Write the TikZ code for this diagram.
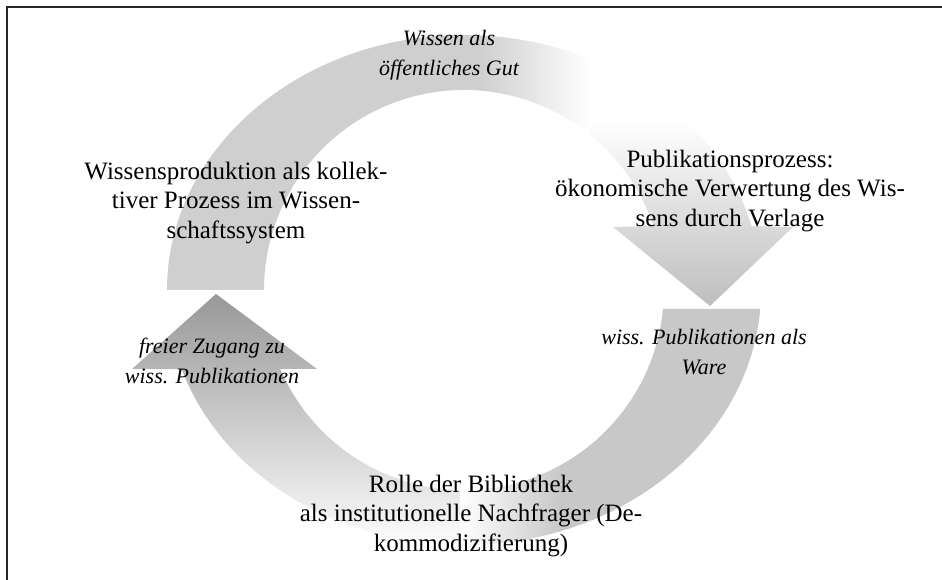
\documentclass[tikz,border=0pt]{standalone}
\usepackage{fontspec}
\setmainfont{LiberationSerif}[Extension=.ttf, UprightFont=*-Regular, ItalicFont=*-Italic, BoldFont=*-Bold]
\usepackage{tikz}

\definecolor{tailgray}{HTML}{CFCFCF}
\definecolor{tailgraytwo}{HTML}{C8C8C8}
\definecolor{headgray}{HTML}{BDBDBD}
\definecolor{headdark}{HTML}{969696}

\begin{document}
\begin{tikzpicture}[
		x=1pt,
		y=1pt,
		maintext/.style={font=\fontsize{25}{29.5}\selectfont, align=center, inner sep=0pt},
		slanttext/.style={font=\fontsize{22}{29.5}\selectfont\itshape, align=center, inner sep=0pt}
		]
		
		\def\OuterA{297}
		\def\OuterB{255}
		\def\InnerR{200}
		
		\useasboundingbox (0,0) rectangle (942,580);
		
		% Frame, only the left and the top edge are in view.
		\draw[line width=1.6pt, black!85] (7,0) -- (7,573) -- (942,573);
		
		% Upper arrow: from the left side over the top down to the right.
		\begin{scope}
			\clip (167,290) arc[start angle=180, end angle=14.53, x radius=\OuterA, y radius=\OuterB]
			-- (793,353) -- (710,274) -- (613,353)
			-- (653.5,354) arc[start angle=18.66, end angle=180, radius=\InnerR] -- cycle;
			\fill[tailgray] (150,280) rectangle (480,560);
			\shade[left color=tailgray, right color=white] (480,430) rectangle (590,560);
			\fill[white] (590,460) rectangle (810,560);
			\shade[top color=white, bottom color=headgray] (590,460) rectangle (810,272);
		\end{scope}
		
		% Lower arrow: from the right side under the bottom up to the left.
		\begin{scope}
			\clip (760.2,271) arc[start angle=-4.27, end angle=-161.95, x radius=\OuterA, y radius=\OuterB]
			-- (132,211) -- (216,286) -- (317,211)
			-- (280.2,211) arc[start angle=-156.73, end angle=-5.45, radius=\InnerR] -- cycle;
			\shade[top color=headdark, bottom color=white] (110,30) rectangle (470,290);
			\fill[tailgraytwo] (560,30) rectangle (780,280);
			\shade[left color=white, right color=tailgraytwo] (460,30) rectangle (560,130);
		\end{scope}
		
		% Texts.
		\node[slanttext] (gut) at (449,525) {Wissen als\\öffentliches Gut};
		\node[maintext] (produktion) at (236,377) {Wissensproduktion als kollek-\\tiver Prozess im Wissen-\\schaftssystem};
		\node[maintext] (verwertung) at (730,389) {Publikationsprozess:\\ökonomische Verwertung des Wis-\\sens durch Verlage};
		\node[slanttext] (ware) at (704,228) {wiss. Publikationen als\\Ware};
		\node[slanttext] (zugang) at (212,219) {freier Zugang zu\\wiss. Publikationen};
		\node[maintext] (bibliothek) at (471,64) {Rolle der Bibliothek\\als institutionelle Nachfrager (De-\\kommodizifierung)};
		
	\end{tikzpicture}
\end{document}
